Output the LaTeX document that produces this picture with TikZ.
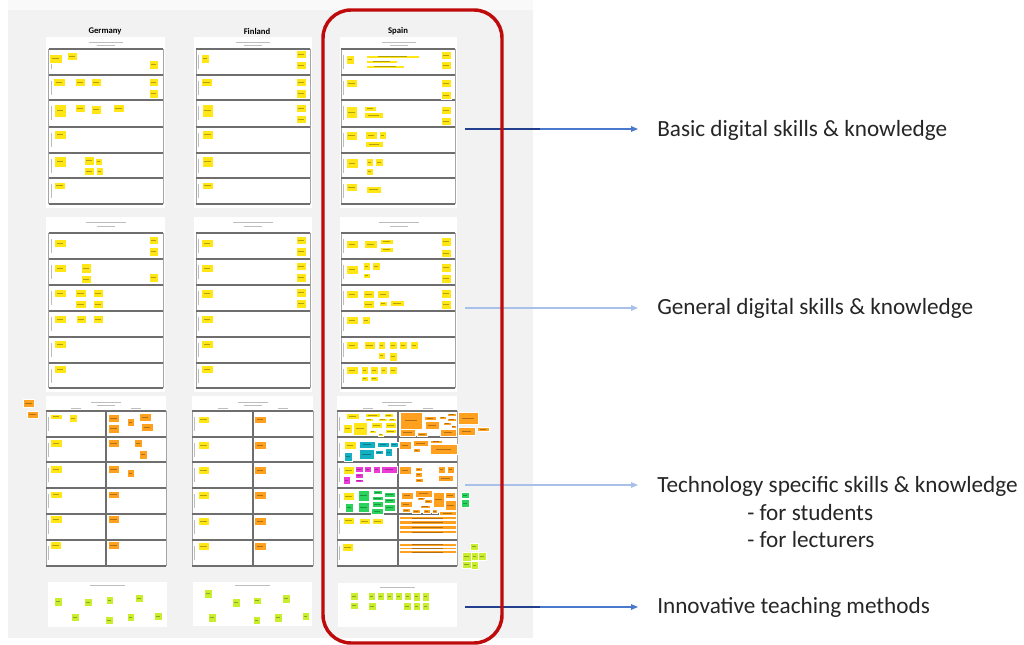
\documentclass[tikz,border=0pt]{standalone}
\usepackage{fontspec}
\setmainfont{Carlito}
\usetikzlibrary{arrows.meta}
\definecolor{boardgrey}{HTML}{F2F2F2}
\definecolor{boardtop}{HTML}{F9F9F9}
\definecolor{sepgrey}{HTML}{6E6E6E}
\definecolor{sidegrey}{HTML}{A5A5A5}
\definecolor{faintgrey}{HTML}{BDBDBD}
\definecolor{noteyellow}{HTML}{FFE614}
\definecolor{noteorange}{HTML}{FFA01E}
\definecolor{notelime}{HTML}{C8EE2E}
\definecolor{notecyan}{HTML}{14AFC0}
\definecolor{notemagenta}{HTML}{EC3AD8}
\definecolor{notegreen}{HTML}{2AD35C}
\definecolor{framered}{HTML}{BE0A0A}
\definecolor{arrowblue}{HTML}{4A78CC}
\definecolor{arrowdark}{HTML}{22408E}
\definecolor{arrowlight}{HTML}{A9C1EA}
\tikzset{
  board/.style={fill=boardgrey},
  sheet/.style={fill=white},
  rowsep/.style={draw=sepgrey,line width=1.1pt},
  sideline/.style={draw=sidegrey,line width=0.6pt},
  fauxtext/.style={draw=faintgrey,line width=0.7pt},
  notetext/.style={draw=black,draw opacity=0.3,line width=0.35pt},
  yn/.style={fill=noteyellow,draw=white,line width=0.25pt},
  on/.style={fill=noteorange,draw=white,line width=0.25pt},
  ln/.style={fill=notelime,draw=white,line width=0.25pt},
  cn/.style={fill=notecyan,draw=white,line width=0.25pt},
  mn/.style={fill=notemagenta,draw=white,line width=0.25pt},
  gn/.style={fill=notegreen,draw=white,line width=0.25pt},
  colhead/.style={font=\bfseries\fontsize{6.5}{7}\selectfont,inner sep=0pt},
  biglabel/.style={font=\fontsize{17.4}{21}\selectfont,inner sep=0pt,anchor=base west,text=black!85},
  arr/.style={-{Triangle[length=5.2pt,width=4.2pt]},line width=0.8pt},
  redframe/.style={draw=framered,line width=2.6pt,rounded corners=21pt}
}
\newcommand\putnotes[2]{\foreach \a/\b/\c/\d in {#2} {%
  \path[#1] (\a,\b) rectangle (\c,\d);
  \draw[notetext] ({\a+0.22*(\c-\a)},{(\b+\d)/2}) -- ({\c-0.22*(\c-\a)},{(\b+\d)/2});}}
\begin{document}
\begin{tikzpicture}[x=0.75pt,y=-0.75pt]
\useasboundingbox (0,0) rectangle (1024,645);
\fill[white] (0,0) rectangle (1024,645);
% board
\fill[boardtop] (8,0) rectangle (533,10);
\fill[board] (8,10) rectangle (533,638);
% column headers
\node[colhead] (hde) at (105,31) {Germany};
\node[colhead] (hfi) at (257,31) {Finland};
\node[colhead] (hes) at (398,31) {Spain};
% panels 1 and 2
\foreach \L/\R/\WL/\WR in {48.5/163/46/165, 196/310/194/312, 341/455/340/457} {
  \fill[sheet] (\WL,37) rectangle (\WR,208);
  \fill[sheet] (\WL,217) rectangle (\WR,392);
  \draw[sideline] (\L,49) -- (\L,204) (\R,49) -- (\R,204);
  \draw[sideline] (\L,233) -- (\L,388) (\R,233) -- (\R,388);
  \foreach \y in {49,75,100,127,153,178,204} {\draw[rowsep] (\L,\y) -- (\R,\y);}
  \foreach \y in {233,259,285,311,337,363,388} {\draw[rowsep] (\L,\y) -- (\R,\y);}
  \foreach \y in {49,75,100,127,153,178,233,259,285,311,337,363} {\draw[fauxtext,line width=0.4pt] (\L+2.5,\y+6) -- (\L+2.5,\y+20);}
  \draw[fauxtext] ({(\WL+\WR)/2-17},42) -- ({(\WL+\WR)/2+17},42) ({(\WL+\WR)/2-9},45.5) -- ({(\WL+\WR)/2+9},45.5);
  \draw[fauxtext] ({(\WL+\WR)/2-20},222) -- ({(\WL+\WR)/2+20},222) ({(\WL+\WR)/2-9},226) -- ({(\WL+\WR)/2+9},226);
}
% panel 3
\foreach \L/\M/\R in {46/106/166, 192/253/313, 337/398/457} {
  \fill[sheet] (\L,396) rectangle (\R,567);
  \draw[sideline] (\L,411) -- (\L,566) (\R,411) -- (\R,566);
  \draw[rowsep,line width=0.9pt] (\M,411) -- (\M,566);
  \foreach \y in {411,437,462,488,514,540,566} {\draw[rowsep] (\L,\y) -- (\R,\y);}
  \foreach \y in {411,437,462,488,514,540} {\draw[fauxtext,line width=0.4pt] (\L+2.5,\y+6) -- (\L+2.5,\y+20);}
  \draw[fauxtext] ({(\L+\R)/2-15},402) -- ({(\L+\R)/2+15},402) ({(\L+\R)/2-9},405.5) -- ({(\L+\R)/2+9},405.5);
  \draw[fauxtext,line width=0.4pt] ({(\L+\M)/2-5},408.5) -- ({(\L+\M)/2+5},408.5) ({(\M+\R)/2-5},408.5) -- ({(\M+\R)/2+5},408.5);
}
% panel 4
\fill[sheet] (48,582) rectangle (167,627);
\fill[sheet] (193,582) rectangle (312,626);
\fill[sheet] (338,583) rectangle (457,627);
\draw[fauxtext] (90,585.5) -- (125,585.5) (235,585.5) -- (270,585.5) (380,587) -- (415,587);
% yellow notes
\putnotes{yn}{49/54/62/63, 67/52/77/60, 149/60/158/69,
53/78/65/86, 75/78/85/86, 91/78/101/86, 149/78/158/86, 149/89/158/98,
54/104/66/117, 75/104/85/112, 91/105/101/114, 113/104/124/112,
54/130/66/139,
54/156/66/167, 84/156/94/165, 95/158/102/165, 84/167/94/175, 96/167/103/175,
54/182/65/189}
\putnotes{yn}{201/54/209/63, 296/50/306/58, 296/61/306/69,
201/78/212/86, 296/78/306/86, 296/89/306/98,
202/104/213/117, 296/104/306/112, 296/115/306/123,
202/130/213/139, 202/156/213/167, 202/182/213/189}
\putnotes{yn}{346/55/354/64, 366/55/419/58, 366/60/397/63, 366/65/404/68, 441/51/451/59, 441/61/451/69,
346/79/357/87, 441/79/451/87, 441/91/451/99,
346/106/357/118, 364/106/376/111, 364/112/383/118, 441/106/451/114, 441/117/451/125,
346/131/357/140, 365/131/377/139, 379/131/386/139, 365/141/383/147,
346/158/358/168, 366/158/373/166, 375/158/383/166, 366/168/373/175,
346/183/357/191, 366/186/381/193}
\putnotes{yn}{54/239/66/247, 149/236/158/244, 149/247/158/256,
54/264/66/272, 81/263/91/273, 81/275/91/283, 149/273/158/282,
54/289/66/297, 75/289/86/297, 93/289/103/297, 75/300/86/308, 93/300/103/308,
54/315/66/323, 76/315/86/323, 93/315/103/323,
54/340/66/348, 54/365/66/373}
\putnotes{yn}{201/239/213/247, 296/236/306/244, 296/247/306/256,
201/264/213/272, 296/262/306/270, 296/273/306/282,
201/289/213/298, 296/288/306/297, 296/299/306/308,
201/315/213/323, 201/340/213/348, 201/365/213/373}
\putnotes{yn}{346/240/358/248, 364/240/377/248, 380/239/393/244, 380/247/393/252, 441/237/451/246, 441/249/451/257,
346/265/358/274, 363/262/370/270, 372/262/380/270, 363/273/370/278, 441/263/451/272, 441/274/451/283,
346/290/358/298, 363/290/374/298, 377/290/389/298, 363/300/374/308, 379/301/387/306, 390/300/404/306, 441/289/451/298, 441/300/451/309,
346/316/358/324, 362/316/370/324,
346/341/358/349, 364/341/375/349, 378/341/385/349, 389/341/397/349, 399/341/407/349, 410/341/418/349, 378/352/385/359, 389/352/397/361,
346/366/358/374, 361/366/368/374, 370/366/378/374, 380/366/387/374, 389/366/397/374, 361/376/368/381, 370/376/378/381}
\putnotes{yn}{50/414/62/419, 69/414/77/422, 50/439/62/447, 50/465/62/473, 50/491/62/498, 50/515/62/523, 50/541/61/549,
198/416/209/423, 198/441/209/449, 198/466/209/474, 198/491/209/499, 198/517/209/525, 198/542/209/550}
\putnotes{yn}{346/413/359/419, 365/413/380/417, 384/413/393/417, 365/418/373/421, 378/418/387/421, 388/418/396/421, 343/424/352/433, 353/422/367/435, 371/422/382/428, 385/422/396/428, 369/430/376/433, 385/429/396/433, 378/433/383/436,
344/441/356/449, 343/466/354/474, 343/492/354/500, 343/517/354/524, 359/518/370/524, 372/518/383/524, 342/543/353/551}
% orange notes
\putnotes{on}{23/399/34/407, 27/411/38/418, 108/414/119/422, 108/424/119/433, 127/418/134/426, 139/413/151/421, 141/423/153/431,
108/439/119/447, 134/439/142/447, 139/450/147/459,
108/465/119/473, 127/469/134/477,
108/491/119/498, 108/515/119/523, 108/541/119/549,
254/416/266/423, 254/441/266/449, 254/466/266/474, 254/491/266/499, 254/517/266/525, 254/542/266/550}
\putnotes{on}{400/412/422/429, 400/429/415/436, 417/432/427/436, 424/416/436/420, 425/421/439/429, 439/416/446/419, 447/413/456/416, 447/418/456/421, 443/422/451/425, 440/429/456/436, 451/425/456/428,
458/412/478/424, 458/427/475/435, 477/427/489/431,
399/441/411/449, 413/440/428/446, 430/440/442/443, 413/448/420/452, 430/444/457/454,
399/466/411/474, 415/467/422/471, 415/472/422/477, 415/478/423/482, 438/466/445/473, 447/466/454/473, 438/475/453/481,
401/492/413/499, 415/490/432/497, 417/497/425/500, 424/499/432/503, 400/501/412/507, 402/508/410/512, 420/505/430/508, 412/509/420/513, 423/509/430/513, 432/509/437/513, 433/492/444/507, 445/492/455/498, 445/500/456/510, 439/511/456/515,
399/516/456/519.5, 399/520.5/456/524, 399/525/456/529, 399/530/456/533.5,
399/543/456/546, 399/547/456/549.5, 399/550.5/456/553}
% cyan, magenta, green notes
\putnotes{cn}{344/452/352/461, 359/441/375/448, 359/449/374/459, 377/442/389/447, 390/442/398/447, 375/450/383/454, 385/448/392/456}
\putnotes{mn}{343/476/350/484, 355/466/363/472, 364/466/371/472, 373/466/380/473, 381/466/397/473, 355/473/363/478, 355/479/363/482}
\putnotes{gn}{345/503/353/512, 358/490/369/501, 358/502/369/512, 373/490/382/494, 372/496/383/500, 372/501/383/507, 371/508/383/514, 384/492/395/497, 384/498/395/503, 384/504/395/511, 461/492/469/498, 461/499/469/507}
% lime notes
\putnotes{ln}{470/543/478/550, 462/552/471/561, 471/552/478/560, 478/552/486/560, 462/561/471/568, 471/561/478/569,
54/597/62/606, 84/598/92/606, 106/596/113/604, 135/594/143/602, 71/613/79/621, 105/616/113/624, 127/613/134/621, 154/612/162/620,
204/589/212/598, 232/598/240/607, 253/597/261/604, 282/594/290/603, 208/613/216/622, 253/616/260/624, 274/613/282/622, 302/612/309/620,
350/592/358/600, 350/602/358/609, 368/592/375/600, 377/592/384/600, 386/592/393/600, 395/592/402/600, 404/592/411/600, 413/592/420/601, 422/592/429/601, 368/602/376/610, 403/602/411/610, 413/602/420/610, 422/602/429/610}
% labels
\node[biglabel] (l1) at (657,136.5) {Basic digital skills \& knowledge};
\node[biglabel] (l2) at (657,315) {General digital skills \& knowledge};
\node[biglabel] (l3) at (657,492) {Technology specific skills \& knowledge};
\node[biglabel] (l3a) at (747,520) {- for students};
\node[biglabel] (l3b) at (747,547.5) {- for lecturers};
\node[biglabel] (l4) at (657,613.5) {Innovative teaching methods};
% arrows
\coordinate (s1) at (465,129); \coordinate (t1) at (638,129);
\coordinate (s2) at (465,308); \coordinate (t2) at (638,308);
\coordinate (s3) at (465,485); \coordinate (t3) at (638,485);
\coordinate (s4) at (465,607); \coordinate (t4) at (638,607);
\draw[arr,draw=arrowblue,fill=arrowblue] (s1) -- (t1);
\draw[line width=0.8pt,draw=arrowdark] (s1) -- ++(75,0);
\draw[arr,draw=arrowlight,fill=arrowblue] (s2) -- (t2);
\draw[arr,draw=arrowlight,fill=arrowblue] (s3) -- (t3);
\draw[arr,draw=arrowblue,fill=arrowblue] (s4) -- (t4);
\draw[line width=0.8pt,draw=arrowdark] (s4) -- ++(75,0);
% red frame
\draw[redframe] (323,10) rectangle (502,643);
\end{tikzpicture}
\end{document}
